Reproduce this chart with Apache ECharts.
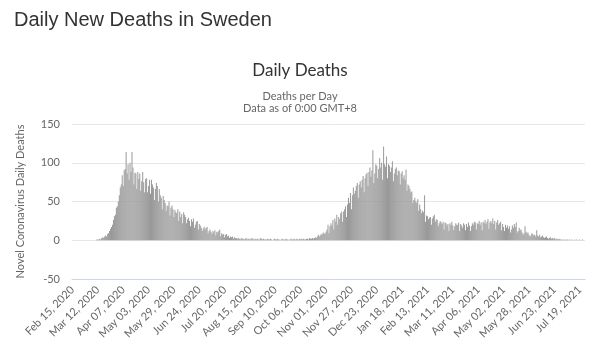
<!DOCTYPE html>
<html>
<head>
<meta charset="utf-8">
<script src="https://cdn.jsdelivr.net/npm/echarts@6/dist/echarts.min.js"></script>
<style>html,body{margin:0;padding:0;background:#fff}#c{width:600px;height:345px}</style>
</head>
<body>
<div id="c"></div>
<script>
// Daily deaths, month by month (Feb 15, 2020 .. Jul 24, 2021)
var feb2020 = [0,0,0,0,0,0,0,0,0,0,0,0,0,0,0];
var mar2020 = [0,0,0,0,0,0,0,0,0,0,1,1,1,2,1,3,4,3,5,6,5,8,9,12,15,17,20,26,31,33,42];
var apr2020 = [44,50,58,68,72,84,70,90,92,114,86,98,78,100,88,114,94,72,87,86,66,88,79,86,64,76,88,75,62,79];
var may2020 = [80,62,70,78,60,78,72,68,52,66,74,70,50,66,58,55,40,57,52,48,38,45,44,50,32,42,45,40,30,39,36];
var jun2020 = [35,40,25,37,30,34,22,36,33,30,22,27,29,25,18,27,24,28,16,20,24,25,14,21,19,16,12,15,17,14];
var jul2020 = [16,17,9,12,14,11,8,12,10,13,6,11,10,12,14,5,9,7,8,4,7,8,5,6,3,5,4,5,2,4,3];
var aug2020 = [3,2,3,2,1,3,2,2,1,2,3,1,2,2,1,2,3,1,2,1,2,1,2,1,1,3,2,1,2,1,1];
var sep2020 = [1,2,1,1,2,1,0,1,2,1,1,2,1,1,0,1,2,1,1,1,2,1,1,0,1,2,1,1,2,1];
var oct2020 = [1,2,1,1,2,1,2,1,2,1,1,2,2,1,3,2,2,3,2,3,4,3,5,7,5,6,8,7,10,9,8];
var nov2020 = [11,14,20,9,18,22,19,26,14,28,24,33,20,30,27,35,37,24,37,40,44,30,46,55,48,61,40,58,68,60];
var dec2020 = [64,70,74,55,72,76,68,78,83,62,80,85,87,70,88,94,82,90,116,74,86,98,96,80,92,106,94,100,78,121,98];
var jan2021 = [95,108,80,98,96,88,94,102,76,86,92,94,84,90,89,72,86,89,80,84,78,91,64,72,70,66,62,63,48,52,55];
var feb2021 = [50,48,53,38,46,40,35,38,36,58,24,32,31,27,29,30,20,28,31,33,24,27,26,18,22,25,23,21];
var mar2021 = [24,14,23,22,19,21,12,22,20,24,19,13,18,22,20,20,23,12,21,19,16,22,20,13,21,17,23,19,12,18,22];
var apr2021 = [20,24,23,14,22,21,25,20,23,13,24,22,26,21,24,27,15,23,25,22,28,21,25,14,23,26,20,22,24,13];
var may2021 = [21,17,12,20,16,19,15,18,10,14,19,16,21,17,23,10,12,16,13,14,10,7,9,18,11,9,10,7,5,6,9];
var jun2021 = [8,6,7,5,13,6,5,7,4,5,6,4,3,4,5,3,2,3,4,2,3,2,3,1,2,2,1,2,1,1];
var jul2021 = [1,0,1,1,0,1,1,0,1,0,1,0,0,1,0,1,0,0,1,0,0,1,0,0];

var deaths = [].concat(feb2020, mar2020, apr2020, may2020, jun2020, jul2020, aug2020, sep2020,
  oct2020, nov2020, dec2020, jan2021, feb2021, mar2021, apr2021, may2021, jun2021, jul2021);

var monthNames = ['Jan','Feb','Mar','Apr','May','Jun','Jul','Aug','Sep','Oct','Nov','Dec'];
var startDate = [2020, 1, 15]; // Feb 15, 2020
var yTicks = [-50, 0, 50, 100, 150];

var categories = [];
for (var i = 0; i < deaths.length; i++) {
  var d = new Date(Date.UTC(startDate[0], startDate[1], startDate[2] + i));
  var dd = d.getUTCDate();
  categories.push(monthNames[d.getUTCMonth()] + ' ' + (dd < 10 ? '0' + dd : dd) + ', ' + d.getUTCFullYear());
}

var chart = echarts.init(document.getElementById('c'), null, {renderer: 'canvas'});
chart.setOption({
  animation: false,
  backgroundColor: '#ffffff',
  title: [
    {text: 'Daily New Deaths in Sweden', left: 9, top: 5,
     textStyle: {fontFamily: 'Liberation Sans, Arial', fontSize: 20, fontWeight: 'normal', color: '#333333'}},
    {text: 'Daily Deaths', left: 'center', top: 57,
     textStyle: {fontFamily: 'Lato', fontSize: 17, fontWeight: 'normal', color: '#333333'}},
    {text: 'Deaths per Day\nData as of 0:00 GMT+8', left: 'center', top: 85,
     textStyle: {fontFamily: 'Lato', fontSize: 11, fontWeight: 'normal', color: '#666666', lineHeight: 12, align: 'center'}}
  ],
  grid: {left: 72, right: 15, top: 124, bottom: 66, containLabel: false},
  xAxis: {
    type: 'category',
    data: categories,
    boundaryGap: true,
    axisLine: {show: true, onZero: false, lineStyle: {color: '#ccd6eb', width: 1}},
    axisTick: {show: false},
    splitLine: {show: false},
    axisLabel: {
      interval: 25, rotate: 45, margin: 9,
      fontFamily: 'Lato', fontSize: 11, color: '#666666'
    }
  },
  yAxis: {
    type: 'value',
    min: yTicks[0], max: yTicks[yTicks.length - 1], interval: 50,
    name: 'Novel Coronavirus Daily Deaths',
    nameLocation: 'middle', nameGap: 46, nameRotate: 90,
    nameTextStyle: {fontFamily: 'Lato', fontSize: 11, color: '#666666'},
    axisLine: {show: false},
    axisTick: {show: false},
    axisLabel: {fontFamily: 'Lato', fontSize: 11, color: '#666666', margin: 12},
    splitLine: {lineStyle: {color: '#e6e6e6', width: 1}}
  },
  series: [{
    type: 'bar',
    data: deaths,
    barCategoryGap: '15%',
    itemStyle: {color: '#999999'},
    emphasis: {disabled: true}
  }]
});
</script>
</body>
</html>
